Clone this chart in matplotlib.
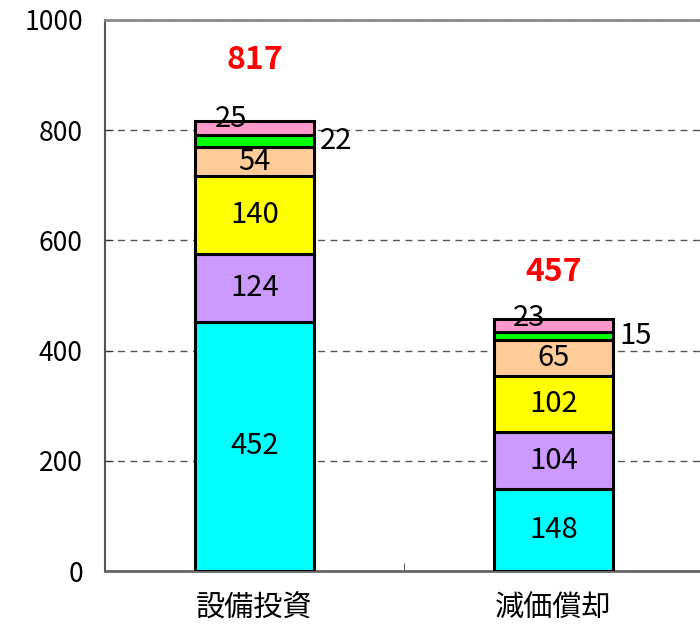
import numpy as np
import matplotlib
matplotlib.use("Agg")
import matplotlib.pyplot as plt

plt.rcParams['font.family'] = ['Noto Sans CJK JP', 'DejaVu Sans']

# datos
categorias = ["設備投資", "減価償却"]
seg1 = [452, 148]   # cian
seg2 = [124, 104]   # lila
seg3 = [140, 102]   # amarillo
seg4 = [54, 65]     # melocoton
seg5 = [22, 15]     # verde
seg6 = [25, 23]     # rosa
totales = [817, 457]

series = [seg1, seg2, seg3, seg4, seg5, seg6]
colores = ["#00FFFF", "#CC99FF", "#FFFF00", "#FFCC99", "#00FF00", "#FF99CC"]

fig = plt.figure(figsize=(7, 6.26), dpi=100)
ax = fig.add_axes([105 / 700, 55 / 626, 598 / 700, 551 / 626])

x = np.arange(len(categorias))
ancho = 0.4
base = np.zeros(len(categorias))
for vals, col in zip(series, colores):
    ax.bar(x, vals, ancho, bottom=base, color=col, edgecolor="black",
           linewidth=2.2, zorder=3)
    base = base + np.array(vals)

# etiquetas dentro de las barras
base = np.zeros(len(categorias))
for k, vals in enumerate(series):
    for i, v in enumerate(vals):
        centro = base[i] + v / 2
        if k < 4:
            ax.text(x[i], centro, str(v), ha="center", va="center",
                    fontsize=21, zorder=4)
        elif k == 4:
            ax.text(x[i] + ancho / 2 + 0.02, centro, str(v), ha="left",
                    va="center", fontsize=21, zorder=4)
        else:
            ax.text(x[i] - 0.08, base[i] + v + 3, str(v), ha="center",
                    va="center", fontsize=21, zorder=4)
    base = base + np.array(vals)

# totales en rojo
desplaz = [110, 86]
for i, t in enumerate(totales):
    ax.text(x[i], t + desplaz[i], str(t), ha="center", va="center",
            fontsize=23, color="red", fontweight="bold", zorder=4)

ax.set_xlim(-0.5, 1.5)
ax.set_ylim(0, 1000)
ax.set_yticks([0, 200, 400, 600, 800, 1000])
ax.set_xticks(x)
ax.set_xticklabels(categorias, fontsize=21)
ax.set_xticks([0.5], minor=True)
ax.tick_params(axis="x", which="major", length=0, pad=16)
ax.tick_params(axis="x", which="minor", direction="in", length=6,
               color="#333333")
ax.tick_params(axis="y", direction="in", length=6, labelsize=19, pad=16,
               color="#333333")

ax.yaxis.grid(True, linestyle=(0, (5, 4)), color="#555555", linewidth=1,
              zorder=0)
ax.set_axisbelow(True)

ax.spines["left"].set_color("#555555")
ax.spines["left"].set_linewidth(1.5)
ax.spines["bottom"].set_color("#666666")
ax.spines["bottom"].set_linewidth(2)
ax.spines["top"].set_color("#888888")
ax.spines["top"].set_linewidth(2)
ax.spines["right"].set_visible(False)

fig.savefig("out.png", dpi=100)
